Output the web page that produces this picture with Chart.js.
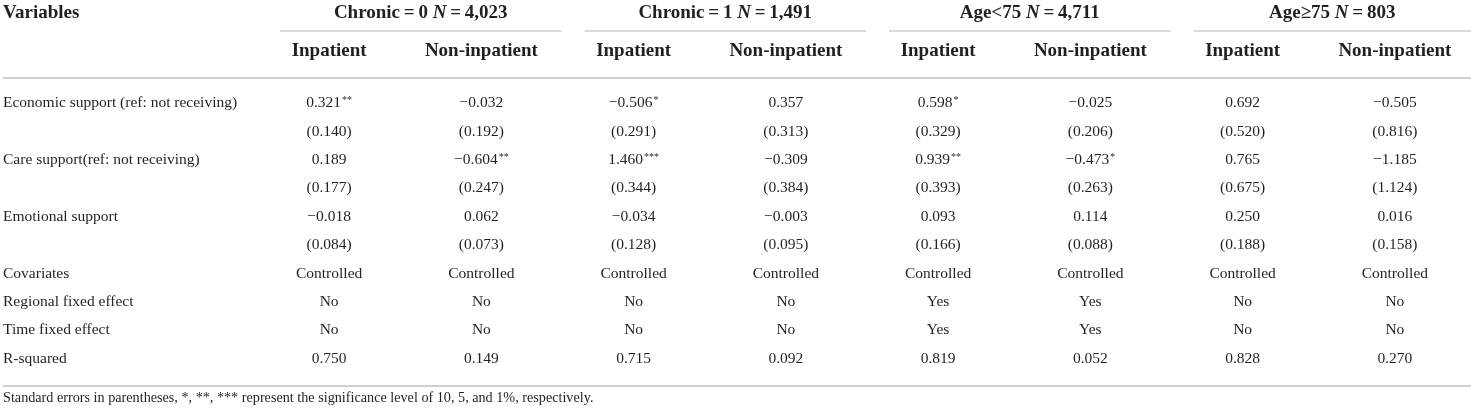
<!DOCTYPE html>
<html>
<head>
<meta charset="utf-8">
<script src="https://cdn.jsdelivr.net/npm/chart.js@4/dist/chart.umd.min.js"></script>
<style>
  html, body { margin: 0; padding: 0; background: #fff; }
  #wrap { width: 1471px; height: 415px; }
</style>
</head>
<body>
<div id="wrap"><canvas id="tabla" width="1471" height="415"></canvas></div>
<script>
// --- datos de la tabla ---
var grupos = ['Chronic\u2009=\u20090', 'Chronic\u2009=\u20091', 'Age<75', 'Age\u226575'];
var gruposN = ['4,023', '1,491', '4,711', '803'];
var columnas = ['Inpatient', 'Non-inpatient', 'Inpatient', 'Non-inpatient',
                'Inpatient', 'Non-inpatient', 'Inpatient', 'Non-inpatient'];
var filas = ['Economic support (ref: not receiving)', '', 'Care support(ref: not receiving)', '',
             'Emotional support', '', 'Covariates', 'Regional fixed effect', 'Time fixed effect', 'R-squared'];

var economico   = ['0.321**', '\u22120.032', '\u22120.506*', '0.357', '0.598*', '\u22120.025', '0.692', '\u22120.505'];
var economicoSE = ['(0.140)', '(0.192)', '(0.291)', '(0.313)', '(0.329)', '(0.206)', '(0.520)', '(0.816)'];
var cuidado     = ['0.189', '\u22120.604**', '1.460***', '\u22120.309', '0.939**', '\u22120.473*', '0.765', '\u22121.185'];
var cuidadoSE   = ['(0.177)', '(0.247)', '(0.344)', '(0.384)', '(0.393)', '(0.263)', '(0.675)', '(1.124)'];
var emocional   = ['\u22120.018', '0.062', '\u22120.034', '\u22120.003', '0.093', '0.114', '0.250', '0.016'];
var emocionalSE = ['(0.084)', '(0.073)', '(0.128)', '(0.095)', '(0.166)', '(0.088)', '(0.188)', '(0.158)'];
var covariables = ['Controlled', 'Controlled', 'Controlled', 'Controlled', 'Controlled', 'Controlled', 'Controlled', 'Controlled'];
var regional    = ['No', 'No', 'No', 'No', 'Yes', 'Yes', 'No', 'No'];
var tiempo      = ['No', 'No', 'No', 'No', 'Yes', 'Yes', 'No', 'No'];
var rCuadrado   = ['0.750', '0.149', '0.715', '0.092', '0.819', '0.052', '0.828', '0.270'];

var nota = 'Standard errors in parentheses, *, **, *** represent the significance level of 10, 5, and 1%, respectively.';

var celdas = [economico, economicoSE, cuidado, cuidadoSE, emocional, emocionalSE,
              covariables, regional, tiempo, rCuadrado];

// --- estilos ---
var COLOR_TEXTO = '#231f20';
var COLOR_LINEA = '#cfcfcf';
var FUENTE = "'Liberation Serif', 'DejaVu Serif', serif";

var plugTabla = {
  id: 'plugTabla',
  afterDraw: function(chart) {
    var ctx = chart.ctx;
    var sx = chart.scales.x, sy = chart.scales.y;
    var paso = sx.getPixelForValue(1) - sx.getPixelForValue(0);
    var altoFila = sy.getPixelForValue(1) - sy.getPixelForValue(0);
    var arriba = sy.getPixelForValue(0) - altoFila / 2;
    var abajo = sy.getPixelForValue(filas.length - 1) + altoFila / 2;
    var W = chart.width;

    ctx.save();
    ctx.fillStyle = COLOR_TEXTO;
    ctx.textBaseline = 'middle';

    // encabezado
    var yTitulo = arriba - 76;
    ctx.font = 'bold 19px ' + FUENTE;
    ctx.textAlign = 'left';
    ctx.fillText('Variables', 3, yTitulo);

    ctx.strokeStyle = COLOR_LINEA;
    ctx.lineWidth = 1.5;
    grupos.forEach(function(g, i) {
      var x0 = sx.getPixelForValue(2 * i) - paso / 2 + 27;
      var x1 = Math.min(sx.getPixelForValue(2 * i + 1) + paso / 2 + 4, W);
      var xc = (x0 + x1) / 2;
      var partes = [
        ['bold 19px ', g + ' '],
        ['italic bold 19px ', 'N'],
        ['bold 19px ', '\u2009=\u2009' + gruposN[i]]
      ];
      var total = 0;
      partes.forEach(function(p) { ctx.font = p[0] + FUENTE; total += ctx.measureText(p[1]).width; });
      var x = xc - total / 2;
      ctx.textAlign = 'left';
      partes.forEach(function(p) {
        ctx.font = p[0] + FUENTE;
        ctx.fillText(p[1], x, yTitulo);
        x += ctx.measureText(p[1]).width;
      });
      ctx.beginPath();
      ctx.moveTo(x0, arriba - 58);
      ctx.lineTo(x1, arriba - 58);
      ctx.stroke();
    });

    ctx.font = 'bold 19px ' + FUENTE;
    ctx.textAlign = 'center';
    columnas.forEach(function(c, i) {
      ctx.fillText(c, sx.getPixelForValue(i), arriba - 38);
    });

    // lineas horizontales completas
    ctx.lineWidth = 2;
    ctx.beginPath();
    ctx.moveTo(3, arriba - 11); ctx.lineTo(W, arriba - 11);
    ctx.moveTo(3, abajo + 13); ctx.lineTo(W, abajo + 13);
    ctx.stroke();

    // etiquetas de fila
    ctx.font = '15.5px ' + FUENTE;
    ctx.textAlign = 'left';
    filas.forEach(function(f, j) {
      if (f) ctx.fillText(f, 3, sy.getPixelForValue(j));
    });

    // celdas
    celdas.forEach(function(fila, j) {
      var y = sy.getPixelForValue(j);
      fila.forEach(function(v, i) {
        var m = /^(.*?)(\*+)$/.exec(v);
        var num = m ? m[1] : v;
        var est = m ? m[2] : '';
        ctx.font = '15.5px ' + FUENTE;
        var w1 = ctx.measureText(num).width;
        ctx.font = '10px ' + FUENTE;
        var w2 = est ? ctx.measureText(est).width + 1 : 0;
        var x = sx.getPixelForValue(i) - (w1 + w2) / 2;
        ctx.textAlign = 'left';
        ctx.font = '15.5px ' + FUENTE;
        ctx.fillText(num, x, y);
        if (est) {
          ctx.font = '10px ' + FUENTE;
          ctx.fillText(est, x + w1 + 1, y - 3);
        }
      });
    });

    // nota al pie
    ctx.font = '14.2px ' + FUENTE;
    ctx.textAlign = 'left';
    ctx.fillText(nota, 3, abajo + 25);
    ctx.restore();
  }
};

var chart = new Chart(document.getElementById('tabla'), {
  type: 'scatter',
  data: { datasets: [] },
  options: {
    responsive: false,
    animation: false,
    events: [],
    layout: { padding: { left: 253, right: 0, top: 89, bottom: 42 } },
    plugins: { legend: { display: false }, tooltip: { enabled: false } },
    scales: {
      x: { type: 'category', labels: columnas.map(function(c, i) { return i + c; }), offset: true, display: false },
      y: { type: 'category', labels: filas.map(function(f, j) { return j + f; }), offset: true, display: false }
    }
  },
  plugins: [plugTabla]
});
</script>
</body>
</html>
